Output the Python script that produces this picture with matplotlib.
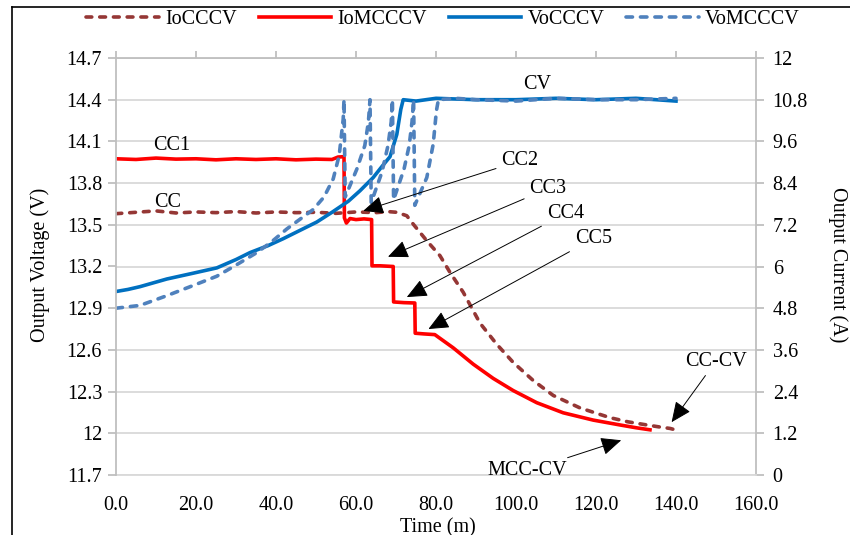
import matplotlib
matplotlib.use("Agg")
import matplotlib.pyplot as plt
from matplotlib.lines import Line2D

plt.rcParams['font.family'] = ['Liberation Serif', 'DejaVu Serif']

# ---------------- data ----------------
# IoCCCV: output current, CC-CV charging (A)
t_io_cccv = [0, 5, 10, 15, 20, 25, 30, 35, 40, 45, 50, 55, 60, 65, 68, 70.2, 72.7, 74.3,
             77.7, 81, 83.5, 86.8, 91, 95.2, 99.3, 104.3, 109.3, 116, 123.5, 128, 132.7,
             136, 138.5, 140.5]
i_io_cccv = [7.52, 7.56, 7.6, 7.54, 7.57, 7.55, 7.58, 7.54, 7.57, 7.55, 7.56, 7.53, 7.57, 7.55,
             7.58, 7.56, 7.46, 7.22, 6.74, 6.31, 5.83, 5.26, 4.37, 3.76, 3.24, 2.72, 2.29,
             1.93, 1.65, 1.53, 1.44, 1.38, 1.34, 1.28]

# IoMCCCV: output current, multi-stage CC-CV charging (A)
t_io_mcccv = [0, 5, 10, 15, 20, 25, 30, 35, 40, 45, 50, 54, 55.5, 57.0, 57.1, 57.6, 58.5, 60,
              62, 63.9, 64.0, 66, 69.3, 69.4, 72, 74.7, 74.8, 77, 79.7, 84.3, 89.3, 94.3,
              99.3, 105.2, 111.8, 119.3, 126, 130, 133.5]
i_io_mcccv = [9.1, 9.08, 9.12, 9.09, 9.1, 9.07, 9.1, 9.08, 9.1, 9.07, 9.09, 9.08, 9.15, 9.16,
              7.4, 7.25, 7.38, 7.35, 7.37, 7.35, 6.02, 6.02, 6.0, 4.98, 4.96, 4.95, 4.08,
              4.06, 4.04, 3.66, 3.19, 2.78, 2.43, 2.08, 1.79, 1.58, 1.44, 1.36, 1.30]

# VoCCCV: output voltage, CC-CV charging (V)
t_vo_cccv = [0, 3, 6, 12.7, 19, 25.2, 30, 33.5, 38, 41.8, 46, 50.2, 54, 58.1, 61, 64.3, 66.5,
             68.5, 70.2, 71.2, 71.8, 75, 80, 90, 100, 110, 120, 130, 140]
v_vo_cccv = [13.02, 13.035, 13.055, 13.11, 13.15, 13.19, 13.25, 13.30, 13.35, 13.40, 13.46,
             13.52, 13.59, 13.67, 13.745, 13.84, 13.92, 13.99, 14.15, 14.33, 14.40, 14.39,
             14.41, 14.40, 14.40, 14.41, 14.40, 14.41, 14.39]

# VoMCCCV: output voltage, multi-stage CC-CV charging (V)
t_vo_mcccv = [0, 6, 12.7, 19, 25.2, 30, 35.2, 39, 42.7, 46, 49.3, 52, 54.3, 55.8, 56.8, 57.0,
              57.3, 60.2, 62.2, 63.1, 63.5, 63.8, 66.5, 68.0, 68.8, 69.1, 69.4, 72.0, 73.3,
              74.0, 74.4, 74.7, 77.7, 79.3, 80.1, 80.6, 85, 90, 100, 110, 120, 130, 140]
v_vo_mcccv = [12.90, 12.92, 12.99, 13.06, 13.13, 13.21, 13.30, 13.38, 13.47, 13.54, 13.61,
              13.70, 13.83, 14.0, 14.26, 14.40, 13.70, 13.90, 14.07, 14.24, 14.40, 13.66,
              13.88, 14.07, 14.24, 14.40, 13.68, 13.90, 14.07, 14.24, 14.40, 13.64, 13.84,
              14.08, 14.32, 14.40, 14.41, 14.40, 14.39, 14.41, 14.40, 14.40, 14.41]

x_ticks = [0, 20, 40, 60, 80, 100, 120, 140, 160]
v_ticks = [11.7, 12.0, 12.3, 12.6, 12.9, 13.2, 13.5, 13.8, 14.1, 14.4, 14.7]
i_ticks = [0, 1.2, 2.4, 3.6, 4.8, 6.0, 7.2, 8.4, 9.6, 10.8, 12.0]

series_names = ['IoCCCV', 'IoMCCCV', 'VoCCCV', 'VoMCCCV']

# annotations: (text, text position (t, V), arrow tip (t, V) or None)
annotations = [
    ('CV', (105.3, 14.51), None),
    ('CC1', (14.0, 14.07), None),
    ('CC', (12.8, 13.66), None),
    ('CC2', (101.0, 13.96), (61.8, 13.60)),
    ('CC3', (108.0, 13.76), (68.0, 13.27)),
    ('CC4', (112.3, 13.58), (72.7, 12.98)),
    ('CC5', (119.3, 13.40), (78.1, 12.75)),
    ('CC-CV', (150.0, 12.52), (138.9, 12.08)),
    ('MCC-CV', (102.8, 11.73), (126.3, 11.95)),
]

# ---------------- figure ----------------
fig = plt.figure(figsize=(8.5, 5.35), dpi=100)
left, right = 116 / 850, 756 / 850
bottom, top = 1 - 475 / 535, 1 - 58 / 535
ax2 = fig.add_axes([left, bottom, right - left, top - bottom])   # current (back)
ax = fig.add_axes([left, bottom, right - left, top - bottom], sharex=ax2)  # voltage (front)
ax.patch.set_visible(False)
ax.set_zorder(ax2.get_zorder() + 1)

lw = 2.6
grid_c = '#D9D9D9'
spine_c = '#BFBFBF'

h1, = ax2.plot(t_io_cccv, i_io_cccv, color='#953735', lw=lw, linestyle=(0, (1.6, 2.2)),
               dash_capstyle='round', label=series_names[0])
h2, = ax2.plot(t_io_mcccv, i_io_mcccv, color='#FF0000', lw=lw, label=series_names[1])
h3, = ax.plot(t_vo_cccv, v_vo_cccv, color='#0070C0', lw=lw, label=series_names[2])
h4, = ax.plot(t_vo_mcccv, v_vo_mcccv, color='#4F81BD', lw=lw, linestyle=(0, (1.8, 2.2)),
              dash_capstyle='round', label=series_names[3])

# axes limits / ticks
ax.set_xlim(0, 160)
ax.set_ylim(11.7, 14.7)
ax2.set_ylim(0, 12)
ax.set_xticks(x_ticks)
ax.set_xticklabels(['%.1f' % x for x in x_ticks])
ax.set_yticks(v_ticks)
ax.set_yticklabels(['%g' % round(v, 1) for v in v_ticks])
ax2.set_yticks(i_ticks)
ax2.set_yticklabels(['%g' % round(v, 1) for v in i_ticks])
ax2.yaxis.set_label_position('right')
ax2.yaxis.tick_right()

ax2.grid(axis='y', color=grid_c, lw=1.3)
ax2.set_axisbelow(True)
for a in (ax, ax2):
    for s in a.spines.values():
        s.set_color(spine_c)
        s.set_linewidth(1.3)
ax.spines['bottom'].set_visible(False)
ax2.spines['bottom'].set_color(grid_c)
ax.spines['right'].set_visible(False)
ax2.spines['left'].set_visible(False)
ax2.spines['top'].set_visible(False)

fs = 14.5
ax.tick_params(axis='x', top=True, bottom=False, labeltop=False, labelbottom=True,
               direction='out', length=5, width=1.3, color=spine_c, labelsize=fs, pad=10)
ax2.tick_params(axis='x', bottom=False, top=False, labelbottom=False, labeltop=False)
ax.tick_params(axis='y', left=True, right=False, direction='out', length=6, width=1.3,
               color=spine_c, labelsize=fs, pad=4)
ax2.tick_params(axis='y', right=True, left=False, direction='out', length=6, width=1.3,
                color=spine_c, labelsize=fs, pad=6)

fig.text(40 / 850, 0.505, 'Output Voltage (V)', rotation=90, ha='center', va='center', fontsize=fs)
fig.text(838 / 850, 0.505, 'Output Current (A)', rotation=270, ha='center', va='center', fontsize=fs)
fig.text(438 / 850, 1 - 518 / 535, 'Time (m)', ha='center', va='top', fontsize=fs)

# annotations
for txt, pos, tip in annotations:
    if tip is None:
        ax.text(pos[0], pos[1], txt, ha='center', va='center', fontsize=fs, zorder=5)
    else:
        ax.annotate(txt, xy=tip, xytext=pos, ha='center', va='center', fontsize=fs,
                    zorder=5,
                    arrowprops=dict(arrowstyle='-|>,head_length=0.45,head_width=0.2',
                                    mutation_scale=28, color='black', lw=0.7,
                                    shrinkA=2, shrinkB=0))

# legend
fig.legend(handles=[h1, h2, h3, h4], loc='center', ncol=4, frameon=False,
           bbox_to_anchor=(443 / 850, 1 - 19 / 535), fontsize=fs, handlelength=3.6,
           handletextpad=0.3, columnspacing=1.1)

# outer frame (partial, as in the cropped original)
fig.add_artist(Line2D([12 / 850, 12 / 850], [0, 1 - 7 / 535], transform=fig.transFigure,
                      color='black', lw=1.2))
fig.add_artist(Line2D([12 / 850, 1], [1 - 7 / 535, 1 - 7 / 535], transform=fig.transFigure,
                      color='black', lw=1.2))

fig.savefig('out.png', dpi=100)
